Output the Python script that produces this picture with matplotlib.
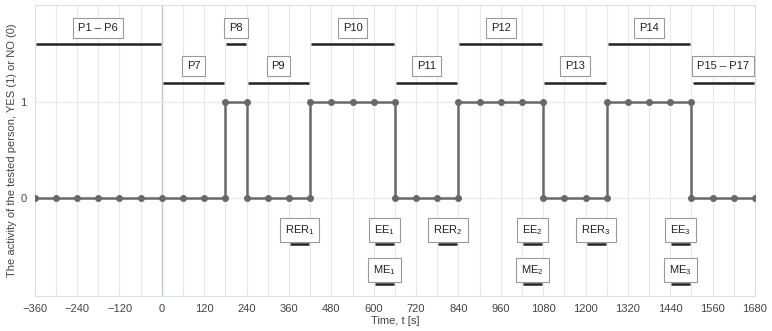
import matplotlib.pyplot as plt

plt.rcParams['font.family'] = ['Liberation Sans', 'DejaVu Sans']

# activity of the tested person (step series, duplicated times at the jumps)
time_s = [-360, -300, -240, -180, -120, -60, 0, 60, 120, 180,
          180, 240,
          240, 300, 360, 420,
          420, 480, 540, 600, 660,
          660, 720, 780, 840,
          840, 900, 960, 1020, 1080,
          1080, 1140, 1200, 1260,
          1260, 1320, 1380, 1440, 1500,
          1500, 1560, 1620, 1680]
activity = [0, 0, 0, 0, 0, 0, 0, 0, 0, 0,
            1, 1,
            0, 0, 0, 0,
            1, 1, 1, 1, 1,
            0, 0, 0, 0,
            1, 1, 1, 1, 1,
            0, 0, 0, 0,
            1, 1, 1, 1, 1,
            0, 0, 0, 0]

# test phases
phase_labels = ['P1 – P6', 'P7', 'P8', 'P9', 'P10', 'P11', 'P12', 'P13', 'P14', 'P15 – P17']
phase_start = [-360, 0, 180, 240, 420, 660, 840, 1080, 1260, 1500]
phase_end = [0, 180, 240, 420, 660, 840, 1080, 1260, 1500, 1680]

# measurement windows
meas_labels = ['RER$_\\mathregular{1}$', 'EE$_\\mathregular{1}$', 'RER$_\\mathregular{2}$',
               'ME$_\\mathregular{1}$', 'EE$_\\mathregular{2}$', 'RER$_\\mathregular{3}$',
               'ME$_\\mathregular{2}$', 'EE$_\\mathregular{3}$', 'ME$_\\mathregular{3}$']
meas_start = [360, 600, 780, 600, 1020, 1200, 1020, 1440, 1440]
meas_end = [420, 660, 840, 660, 1080, 1260, 1080, 1500, 1500]

x_ticks = [-360, -240, -120, 0, 120, 240, 360, 480, 600, 720, 840, 960, 1080, 1200, 1320, 1440, 1560, 1680]

fig = plt.figure(figsize=(7.72, 3.31), dpi=100)
ax = fig.add_axes([0.045, 0.106, 0.933, 0.879])

# grid
for t in range(-300, 1680, 60):
    ax.axvline(t, color='#b7c7d6' if t == 0 else '#e4e9ee', lw=1.0 if t == 0 else 0.8, zorder=0)
for yv in [0, 1]:
    ax.axhline(yv, color='#e4e9ee', lw=0.8, zorder=0)

ax.plot(time_s, activity, color='#686868', lw=1.8, marker='o', markersize=4, zorder=3)

box = dict(boxstyle='square,pad=0.45', fc='white', ec='#999999', lw=0.8)

for i, lab in enumerate(phase_labels):
    yl = 1.6 if i % 2 == 0 else 1.2
    ax.plot([phase_start[i] + 3, phase_end[i] - 3], [yl, yl], color='#222222', lw=1.8,
            solid_capstyle='butt', zorder=4)
    ax.text((phase_start[i] + phase_end[i]) / 2, yl + 0.17, lab, ha='center', va='center',
            fontsize=8, color='#222222', bbox=box, zorder=5)

for i, lab in enumerate(meas_labels):
    yl = -0.9 if lab.startswith('ME') else -0.48
    ax.plot([meas_start[i] + 3, meas_end[i] - 3], [yl, yl], color='#222222', lw=1.8,
            solid_capstyle='butt', zorder=4)
    ax.text((meas_start[i] + meas_end[i]) / 2, yl + 0.15, lab, ha='center', va='center',
            fontsize=8, color='#222222', bbox=box, zorder=5)

ax.set_xlim(-360, 1680)
ax.set_ylim(-1.02, 2.01)
ax.set_xticks(x_ticks)
ax.set_yticks([0, 1])
ax.tick_params(length=0, labelsize=8, colors='#444444', pad=6)
for s in ax.spines.values():
    s.set_color('#d9dee3')
    s.set_linewidth(0.8)

ax.set_xlabel('Time, t [s]', fontsize=8, color='#444444', labelpad=1)
ax.set_ylabel('The activity of the tested person, YES (1) or NO (0)', fontsize=8,
              color='#444444', labelpad=2)

fig.savefig('out.png', dpi=100)
